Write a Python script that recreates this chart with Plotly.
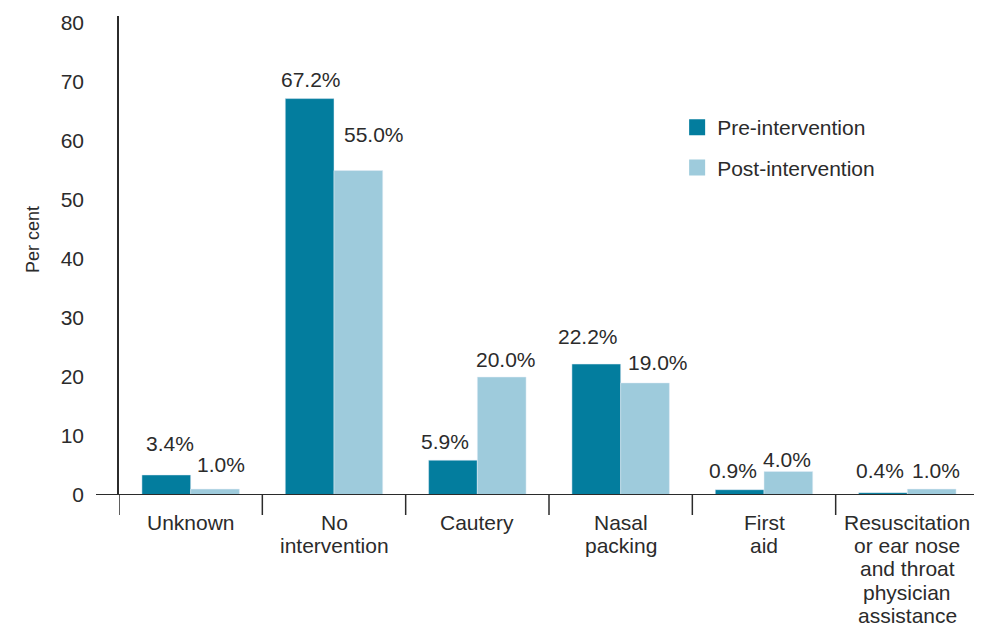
import plotly.graph_objects as go

categories = ["Unknown", "No<br>intervention", "Cautery", "Nasal<br>packing", "First<br>aid",
              "Resuscitation<br>or ear nose<br>and throat<br>physician<br>assistance"]
pre_values = [3.4, 67.2, 5.9, 22.2, 0.9, 0.4]
post_values = [1.0, 55.0, 20.0, 19.0, 4.0, 1.0]
series_names = ["Pre-intervention", "Post-intervention"]
y_ticks = [0, 10, 20, 30, 40, 50, 60, 70, 80]

PRE_COLOR = "#037d9e"
POST_COLOR = "#9ecbdc"
TEXT = "#2b2b2b"
FONT = "Liberation Sans, Arial, sans-serif"
FS = 21

# label placement (style): pixel lift of label centre above bar top, and x nudge
pre_lift = [31, 19, 19, 28, 19, 22]
post_lift = [25, 36, 18, 20, 12, 19]
pre_nudge = [4, 1, -8, -8, -7, -3]
post_nudge = [6, 15, 4, 13, -2, 4]

# page body has an 8px default margin; size the figure to fit the 982x626 window
OFF = 8
W, H = 982 - OFF, 626 - OFF
L, R, T, B = 119 - OFF, 3, 16 - OFF, 131
plot_w = W - L - R
plot_h = H - T - B
bar_px = 49

fig = go.Figure()
fig.add_trace(go.Bar(x=categories, y=pre_values, name=series_names[0], marker_color=PRE_COLOR,
                     showlegend=False))
fig.add_trace(go.Bar(x=categories, y=post_values, name=series_names[1], marker_color=POST_COLOR,
                     showlegend=False))
for nm, col in zip(series_names, [PRE_COLOR, POST_COLOR]):
    fig.add_trace(go.Scatter(x=[None], y=[None], mode="markers", name=nm, legendgroup=nm,
                             marker=dict(symbol="square", size=16, color=col)))

for i, c in enumerate(categories):
    for vals, lifts, nud, sh in ((pre_values, pre_lift, pre_nudge, -bar_px / 2),
                                 (post_values, post_lift, post_nudge, bar_px / 2)):
        fig.add_annotation(x=i, y=vals[i], xref="x", yref="y", text=f"{vals[i]:.1f}%",
                           showarrow=False, xshift=sh + nud[i], yshift=lifts[i], yanchor="middle",
                           font=dict(size=FS, color=TEXT, family=FONT))
    # category label, one line at a time for tighter line spacing
    for k, line in enumerate(c.split("<br>")):
        fig.add_annotation(x=i, y=0, xref="x", yref="paper", text=line, showarrow=False,
                           yanchor="middle", yshift=-(27 + k * 23.4),
                           font=dict(size=FS, color=TEXT, family=FONT))

# category boundary ticks and axis lines
for b in range(len(categories) + 1):
    fig.add_shape(type="line", xref="x", yref="paper", x0=b - 0.5, x1=b - 0.5,
                  y0=-20 / plot_h, y1=0, line=dict(color=TEXT, width=1.5))
fig.add_shape(type="line", xref="paper", yref="y", x0=-23 / plot_w, x1=1, y0=0, y1=0,
              line=dict(color=TEXT, width=1.8))

fig.add_annotation(x=(21 - 119) / plot_w, y=(495 - 240) / plot_h, xref="paper", yref="paper",
                   text="Per cent", textangle=-90, showarrow=False,
                   font=dict(size=18, color=TEXT, family=FONT))

fig.update_layout(
    width=W, height=H,
    margin=dict(l=L, r=R, t=T, b=B),
    paper_bgcolor="white", plot_bgcolor="white",
    font=dict(family=FONT, size=FS, color=TEXT),
    barmode="group", bargap=0.32, bargroupgap=0,
    legend=dict(x=0.649, y=(495 - 107) / plot_h, xanchor="left", yanchor="top",
                font=dict(size=FS, color=TEXT), tracegroupgap=10, traceorder="grouped",
                bgcolor="rgba(0,0,0,0)"),
    xaxis=dict(showline=False, ticks="", showgrid=False, zeroline=False, automargin=False,
               showticklabels=False, range=[-0.5, len(categories) - 0.5]),
    yaxis=dict(range=[0, 81.2], tickvals=y_ticks, showgrid=False, zeroline=False,
               showline=True, linecolor=TEXT, linewidth=1.5, ticks="", automargin=False,
               ticklabelstandoff=29, tickfont=dict(size=FS, color=TEXT)),
)

fig.write_html("out.html")
